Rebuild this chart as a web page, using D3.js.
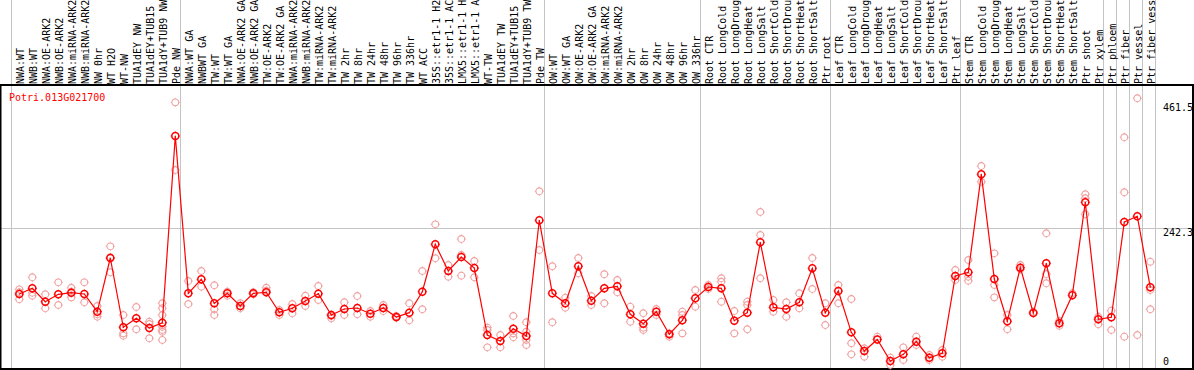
<!DOCTYPE html>
<html>
<head>
<meta charset="utf-8">
<script src="https://cdn.jsdelivr.net/npm/d3@7"></script>
<style>
  body { margin: 0; background: #fff; }
  svg { display: block; }
  text { font-family: "DejaVu Sans Mono", "Liberation Mono", monospace; font-size: 10px; }
</style>
</head>
<body>
<div id="chart"></div>
<script>
// 樣本名稱 (column labels)
const categories = [
  "NWA:WT", "NWB:WT", "NWA:OE-ARK2", "NWB:OE-ARK2", "NWA:miRNA-ARK2", "NWB:miRNA-ARK2",
  "NW 0hr", "WT H2O", "WT-NW", "TUA1dEY NW", "TUA1dEY+TUB15", "TUA1dY+TUB9 NW", "Pde NW",
  "NWA:WT GA", "NWBWT GA", "TW:WT", "TW:WT GA", "NWA:OE-ARK2 GA", "NWB:OE-ARK2 GA",
  "TW:OE-ARK2", "TW:OE-ARK2 GA", "NWA:miRNA-ARK2", "NWB:miRNA-ARK2", "TW:miRNA-ARK2", "TW:miRNA-ARK2",
  "TW 2hr", "TW 8hr", "TW 24hr", "TW 48hr", "TW 96hr", "TW 336hr", "WT ACC",
  "35S::etr1-1 H2O", "35S::etr1-1 ACC", "LMX5::etr1-1 H2O", "LMX5::etr1-1 ACC",
  "WT-TW", "TUA1dEY TW", "TUA1dEY+TUB15", "TUA1dY+TUB9 TW", "Pde TW",
  "OW:WT", "OW:WT GA", "OW:OE-ARK2", "OW:OE-ARK2 GA", "OW:miRNA-ARK2", "OW:miRNA-ARK2",
  "OW 2hr", "OW 8hr", "OW 24hr", "OW 48hr", "OW 96hr", "OW 336hr",
  "Root CTR", "Root LongCold", "Root LongDrought", "Root LongHeat", "Root LongSalt",
  "Root ShortCold", "Root ShortDrought", "Root ShortHeat", "Root ShortSalt", "Ptr root",
  "Leaf CTR", "Leaf LongCold", "Leaf LongDrought", "Leaf LongHeat", "Leaf LongSalt",
  "Leaf ShortCold", "Leaf ShortDrought", "Leaf ShortHeat", "Leaf ShortSalt", "Ptr leaf",
  "Stem CTR", "Stem LongCold", "Stem LongDrought", "Stem LongHeat", "Stem LongSalt",
  "Stem ShortCold", "Stem ShortDrought", "Stem ShortHeat", "Stem ShortSalt", "Ptr shoot",
  "Ptr xylem", "Ptr phloem", "Ptr fiber", "Ptr vessel", "Ptr fiber vessel"
];

// 平均值 (mean expression)
const means = [
  131.5, 141.1, 118.5, 131.0, 133.7, 131.5, 101.7, 192.2, 75.4, 90.5, 74.2, 83.1, 397.9,
  132.7, 156.3, 115.8, 132.7, 111.3, 132.7, 134.4, 100.7, 107.4, 119.7, 132.0, 96.1,
  106.2, 107.9, 98.3, 107.9, 92.7, 100.0, 135.4, 215.3, 170.3, 193.9, 175.3,
  62.4, 52.3, 73.0, 60.7, 255.8,
  132.7, 115.8, 178.2, 120.2, 141.1, 144.5, 97.3, 81.4, 101.7, 63.6, 87.2, 124.3,
  143.3, 141.1, 86.5, 100.0, 218.7, 109.1, 106.2, 117.5, 174.8, 100.0,
  136.6, 66.9, 35.4, 54.8, 18.5, 29.8, 51.1, 24.1, 31.5, 161.9,
  168.1, 333.3, 156.8, 85.5, 175.9, 99.5, 183.3, 82.1, 129.3, 286.1,
  88.9, 92.2, 252.9, 262.5, 142.8
];

// 重複樣本 (replicates)
const replicates = [
  [139.4, 134.4, 122.6], [159.7, 133.7, 128.6], [131.0, 107.4], [151.2, 113.0],
  [142.1, 135.4, 125.9], [151.2, 117.5], [111.3, 97.3, 93.2], [211.9, 193.4, 168.1],
  [96.1, 65.2, 61.2], [109.6, 72.0], [84.8, 80.9, 56.8],
  [115.8, 107.4, 96.1, 76.4, 70.8, 67.9, 54.0], [454.7, 340.6],
  [153.4, 114.6], [170.3, 143.8], [146.2, 105.7, 96.1], [135.4, 128.6], [115.8, 107.4],
  [134.4, 131.0], [142.1, 137.1], [104.5, 96.1], [114.6, 99.0], [128.6, 111.3],
  [145.0, 121.4], [90.5, 94.4], [117.5, 96.1], [128.1, 97.3], [102.8, 93.2],
  [113.0, 102.8], [91.5, 94.4], [115.8, 87.2], [170.3, 105.7], [249.0, 191.7],
  [180.4, 160.7], [224.2, 197.3, 162.4], [187.1, 159.7], [74.7, 70.8, 41.6],
  [62.4, 41.6], [94.4, 65.2, 58.5], [83.8, 67.9, 54.0, 45.5], [304.7, 205.7],
  [178.2, 83.8], [125.3, 108.4], [192.2, 166.4], [128.1, 113.0], [164.7, 115.8],
  [155.1, 134.4], [110.1, 84.8], [99.0, 74.7, 70.8], [106.2, 96.1], [65.2, 59.5],
  [101.7, 96.1, 65.2], [138.3, 110.1],
  [146.7, 139.9], [158.0, 152.2, 118.5], [102.8, 65.2], [118.5, 113.0, 72.0],
  [269.8, 231.0, 158.0], [121.4, 101.7], [117.5, 93.2], [132.7, 107.4], [192.2, 139.9],
  [115.8, 79.2],
  [146.7, 115.8], [123.1, 48.4, 29.8], [40.0, 25.8], [59.5], [24.1, 11.8], [41.6, 20.2],
  [59.5, 45.5], [28.7, 20.2], [37.1, 25.8], [172.0, 155.1],
  [188.8, 160.7, 153.9], [347.3, 320.8], [200.1, 146.7, 125.9], [96.1, 72.0],
  [180.4, 173.2], [101.7], [233.9, 165.2, 149.6], [86.0, 78.1], [132.7],
  [299.6, 292.9, 265.9],
  [93.2, 80.4], [103.4, 70.8], [395.7, 303.0, 59.5], [461.5, 62.4], [186.0, 138.3, 105.7]
];

// 分組分隔線 (column index after which a separator is drawn; -1 = before first)
const groupEnds = [-1, 12, 40, 52, 62, 72, 83, 84, 85, 86, 87];

const yTicks = [0, 242.3, 461.5];
const geneName = "Potri.013G021700";

/***************************************************************************/
const width = 1194, height = 370;
const plotTop = 85, plotBottom = 369, plotRight = 1193;
const labelChars = 14; // 標籤區只放得下 14 個字

const svg = d3.select("#chart").append("svg")
  .attr("width", width)
  .attr("height", height);

const x = d3.scalePoint()
  .domain(d3.range(categories.length))
  .range([19.3, 19.3 + (categories.length - 1) * 13]);

const y = d3.scaleLinear()
  .domain([0, 461.5])
  .range([372, 98.3]);

const grid = "#c4c4c4";

// 垂直分隔線
svg.selectAll("line.sep")
  .data(groupEnds)
  .enter()
  .append("line")
  .attr("class", "sep")
  .attr("x1", d => (d < 0 ? Math.round(x(0) - 8.5) : Math.round(x(d) + 5)) + 0.5)
  .attr("x2", d => (d < 0 ? Math.round(x(0) - 8.5) : Math.round(x(d) + 5)) + 0.5)
  .attr("y1", 0)
  .attr("y2", plotBottom)
  .attr("stroke", grid)
  .attr("stroke-width", 1);

// 水平格線
svg.selectAll("line.hgrid")
  .data(yTicks.filter(d => d !== 0 && d !== 461.5))
  .enter()
  .append("line")
  .attr("class", "hgrid")
  .attr("x1", 0)
  .attr("x2", plotRight)
  .attr("y1", d => Math.round(y(d)) + 0.5)
  .attr("y2", d => Math.round(y(d)) + 0.5)
  .attr("stroke", grid);

// 外框
svg.append("path")
  .attr("d", `M0.5,${plotTop} V${plotBottom} H${plotRight} V${plotTop} H0`)
  .attr("fill", "none")
  .attr("stroke", "#000")
  .attr("stroke-width", 2);

// 樣本標籤 (rotated)
svg.append("g")
  .selectAll("text")
  .data(categories)
  .enter()
  .append("text")
  .attr("transform", (d, i) => `translate(${x(i) + 1},84) rotate(-90)`)
  .attr("dy", "0.35em")
  .attr("fill", "#000")
  .text(d => d.slice(0, labelChars));

// y 軸標籤
svg.append("g")
  .selectAll("text")
  .data(yTicks)
  .enter()
  .append("text")
  .attr("x", 1163)
  .attr("y", d => Math.min(Math.max(y(d) + 4, 107), 361.5))
  .attr("dy", "0.35em")
  .attr("fill", "#000")
  .text(d => d);

// 基因名稱
svg.append("text")
  .attr("x", 9)
  .attr("y", 97.5)
  .attr("dy", "0.35em")
  .attr("fill", "#ff0000")
  .text(geneName);

// 小圓圈 + 四個短刻度
function marker(g, r, color, sw) {
  g.append("circle")
    .attr("r", r)
    .attr("fill", "none")
    .attr("stroke", color)
    .attr("stroke-width", sw);
  g.append("path")
    .attr("d", `M0,${-r - 1.2}V${-r}M0,${r}V${r + 1.2}M${-r - 1.2},0H${-r}M${r},0H${r + 1.2}`)
    .attr("stroke", color)
    .attr("stroke-width", 0.8);
}

// 重複樣本點
const repPoints = [];
replicates.forEach((vals, i) => vals.forEach(v => repPoints.push({ i, v })));

svg.append("g")
  .selectAll("g")
  .data(repPoints)
  .enter()
  .append("g")
  .attr("transform", d => `translate(${x(d.i)},${y(d.v)})`)
  .each(function() { marker(d3.select(this), 3.4, "#f0a0a0", 1.1); });

// 平均值折線
const line = d3.line()
  .x((d, i) => x(i))
  .y(d => y(d));

svg.append("path")
  .datum(means)
  .attr("d", line)
  .attr("fill", "none")
  .attr("stroke", "#ff0000")
  .attr("stroke-width", 1.2);

svg.append("g")
  .selectAll("g")
  .data(means)
  .enter()
  .append("g")
  .attr("transform", (d, i) => `translate(${x(i)},${y(d)})`)
  .each(function() {
    const g = d3.select(this);
    marker(g, 3.5, "#ff0000", 1.5);
    g.append("circle").attr("r", 0.6).attr("fill", "#ff0000");
  });
</script>
</body>
</html>
